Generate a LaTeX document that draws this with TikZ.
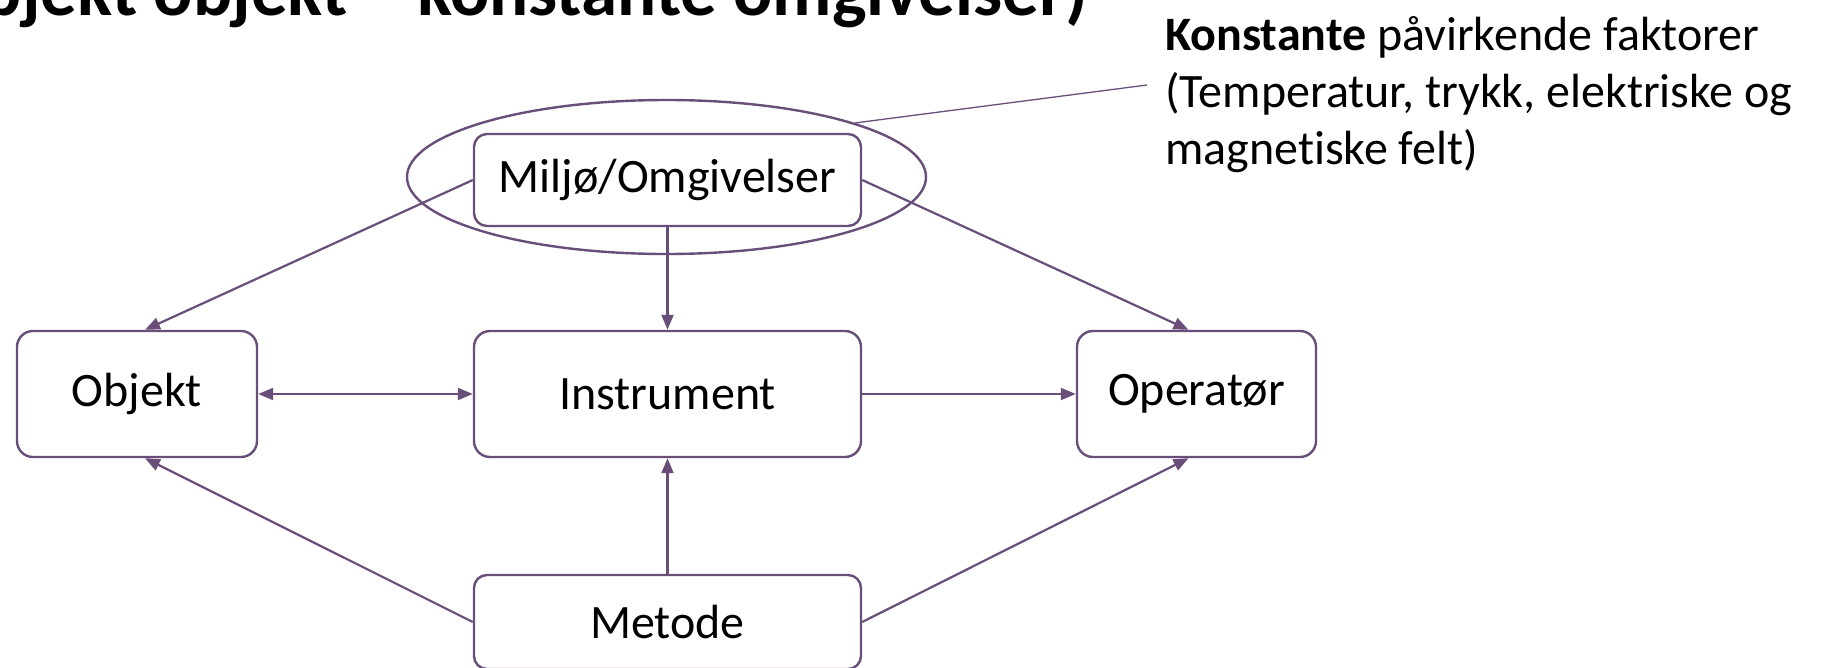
\documentclass[tikz,border=0pt]{standalone}
\usepackage{fontspec}
\setmainfont{Carlito}[Ligatures=NoCommon]
\usetikzlibrary{arrows.meta,shapes.geometric}
\definecolor{lc}{RGB}{106,78,122}
\tikzset{
  box/.style={draw=lc, line width=2.4pt, rounded corners=16pt, fill=white, inner sep=0pt,
    font=\fontsize{48}{56}\selectfont, text=black},
  conn/.style={draw=lc, line width=2.2pt, -{Triangle[length=15pt,width=12pt]}},
  bconn/.style={draw=lc, line width=2.2pt, {Triangle[length=15pt,width=12pt]}-{Triangle[length=15pt,width=12pt]}},
  notetext/.style={anchor=base west, inner sep=0pt, font=\fontsize{48}{57}\selectfont}
}
\begin{document}
\begin{tikzpicture}[x=1pt,y=-1pt]
\useasboundingbox (0,0) rectangle (1824,667);
% clipped title
\node[anchor=base east, inner sep=0pt, font=\fontsize{73}{73}\selectfont\bfseries] (title) at (1088,15) {(Subjekt objekt – konstante omgivelser)};
% ellipse
\node[ellipse, draw=lc, line width=2.4pt, minimum width=519pt, minimum height=154pt, inner sep=0pt] (env) at (666.5,177) {};
% boxes
\node[box, minimum width=387pt, minimum height=92pt, rounded corners=13pt] (miljo) at (667.5,180) {Miljø/Omgivelser};
\node[box, minimum width=240pt, minimum height=126pt] (objekt) at (137,394) {Objekt};
\node[box, minimum width=387pt, minimum height=126pt] (instrument) at (667.5,394) {Instrument};
\node[box, minimum width=239pt, minimum height=126pt] (operator) at (1196.5,394) {Operatør};
\node[box, minimum width=387pt, minimum height=94pt, rounded corners=13pt] (metode) at (667.5,622) {Metode};
% connectors
\draw[conn] (miljo.west) -- ([xshift=8pt]objekt.north);
\draw[conn] (miljo.east) -- ([xshift=-8pt]operator.north);
\draw[conn] (miljo.south) -- (instrument.north);
\draw[bconn] (objekt.east) -- (instrument.west);
\draw[conn] (instrument.east) -- (operator.west);
\draw[conn] (metode.west) -- ([xshift=8pt]objekt.south);
\draw[conn] (metode.east) -- ([xshift=-8pt]operator.south);
\draw[conn] (metode.north) -- (instrument.south);
% note
\coordinate (noteend) at (1147,85);
\draw[draw=lc, line width=1.3pt] (env.16) -- (noteend);
\node[notetext] (note1) at (1165,50) {\textbf{Konstante} påvirkende faktorer};
\node[notetext] (note2) at (1165,107) {(Temperatur, trykk, elektriske og};
\node[notetext] (note3) at (1165,164) {magnetiske felt)};
\end{tikzpicture}
\end{document}
